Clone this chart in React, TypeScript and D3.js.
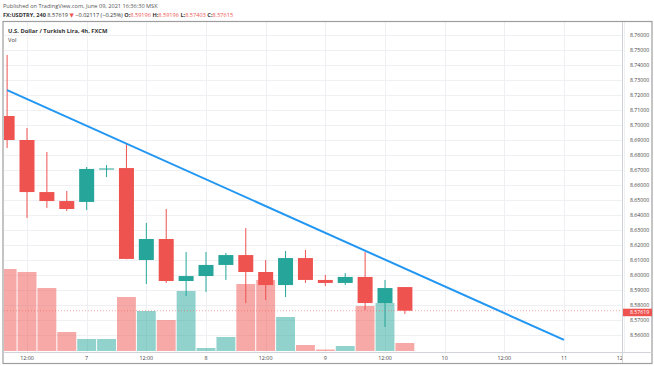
import React from 'react';
import * as d3 from 'd3';

// candle data, 4h bars starting Jun 6 2021 08:00
const opens = [8.706, 8.69, 8.6553, 8.6493, 8.6487, 8.6707, 8.6713, 8.61, 8.624, 8.596, 8.5993, 8.6067, 8.6133, 8.602, 8.5933, 8.6113, 8.5967, 8.5947, 8.5987, 8.5813, 8.59196];
const highs = [8.7467, 8.698, 8.682, 8.656, 8.672, 8.6733, 8.6873, 8.6347, 8.644, 8.6153, 8.6153, 8.6147, 8.6313, 8.61, 8.616, 8.6167, 8.6, 8.6013, 8.6153, 8.5967, 8.59196];
const lows = [8.6847, 8.638, 8.6447, 8.6427, 8.6433, 8.6653, 8.6105, 8.594, 8.5947, 8.586, 8.5887, 8.5967, 8.5813, 8.5833, 8.5853, 8.5947, 8.5927, 8.5933, 8.5767, 8.5653, 8.57403];
const closes = [8.69, 8.6553, 8.6493, 8.644, 8.6707, 8.671, 8.6107, 8.624, 8.596, 8.5993, 8.6067, 8.6133, 8.602, 8.5933, 8.6113, 8.5967, 8.5947, 8.5987, 8.5813, 8.5913, 8.57619];
const volumes = [820, 790, 630, 190, 120, 120, 540, 400, 310, 600, 30, 140, 670, 710, 340, 60, 15, 50, 450, 480, 80];

// trend line prices (start / end)
const trendPrices = [8.7233, 8.5567];

// time axis ticks, hours after Jun 6 00:00
const tickHours = [12, 24, 36, 48, 60, 72, 84, 96, 108, 120, 132];
const tickLabels = ['12:00', '7', '12:00', '8', '12:00', '9', '12:00', '10', '12:00', '11', '12:00'];
const lastPrice = 8.57619;

const W = 654, H = 366;
const pane = { left: 4, top: 22, right: 622, bottom: 352 };
const RED = '#ef5350', GREEN = '#26a69a';
const FONT = 'Open Sans, DejaVu Sans, sans-serif';

export default function App() {
  const base = new Date(2021, 5, 6, 0, 0, 0);
  const atHour = (h: number) => new Date(base.getTime() + h * 3600 * 1000);
  const x = d3.scaleTime().domain([atHour(12), atHour(120)]).range([27, 564]);
  const y = d3.scaleLinear().domain([8.56, 8.76]).range([335, 35]);
  const yVol = d3.scaleLinear().domain([0, 1000]).range([351, 251]);
  const fmt = d3.format('.5f');
  const step = x(atHour(16)) - x(atHour(12));
  const bodyW = 15;

  const bars = opens.map((o, i) => ({
    t: atHour(8 + i * 4), o, h: highs[i], l: lows[i], c: closes[i], v: volumes[i],
  }));
  const priceTicks = d3.range(0, 21).map((i) => 8.56 + i * 0.01);
  const trendLine = d3.line<[Date, number]>().x((d) => x(d[0])).y((d) => y(d[1]));
  const trendPts: [Date, number][] = [[atHour(8), trendPrices[0]], [atHour(120), trendPrices[1]]];
  const ly = y(lastPrice);

  return (
    <svg width={W} height={H} style={{ position: 'absolute', left: 0, top: 0, background: '#fff' }} fontFamily={FONT}>
      <defs>
        <clipPath id="pane">
          <rect x={pane.left} y={pane.top} width={pane.right - pane.left} height={pane.bottom - pane.top} />
        </clipPath>
        <clipPath id="taxis">
          <rect x={pane.left} y={pane.bottom} width={pane.right - pane.left} height={14} />
        </clipPath>
      </defs>
      <rect width={W} height={H} fill="#fff" />

      {/* header */}
      <text x={3} y={8} fontSize={5.6} fill="#555">Published on TradingView.com, June 09, 2021 16:36:30 MSK</text>
      <text x={3} y={17} fontSize={5.6} fill="#333">
        <tspan fontWeight="bold">FX:USDTRY, 240</tspan>
        <tspan> 8.57619 </tspan>
        <tspan fill={RED}>▼</tspan>
        <tspan> −0.02117 (−0.25%) </tspan>
        <tspan fontWeight="bold">O:</tspan><tspan fill={RED}>8.59196 </tspan>
        <tspan fontWeight="bold">H:</tspan><tspan fill={RED}>8.59196 </tspan>
        <tspan fontWeight="bold">L:</tspan><tspan fill={RED}>8.57403 </tspan>
        <tspan fontWeight="bold">C:</tspan><tspan fill={RED}>8.57615</tspan>
      </text>

      {/* grid */}
      <g stroke="#eef0f4" strokeWidth={1}>
        {priceTicks.map((p, i) => (
          <line key={'h' + i} x1={pane.left} x2={pane.right} y1={Math.round(y(p)) + 0.5} y2={Math.round(y(p)) + 0.5} />
        ))}
        {tickHours.map((h, i) => (
          <line key={'v' + i} x1={Math.round(x(atHour(h))) + 0.5} x2={Math.round(x(atHour(h))) + 0.5} y1={pane.top} y2={pane.bottom} />
        ))}
      </g>

      <g clipPath="url(#pane)">
        {/* volume */}
        {bars.map((b, i) => (
          <rect key={'v' + i} x={x(b.t) - step / 2 + 0.5} width={step - 1} y={yVol(b.v)} height={yVol(0) - yVol(b.v)}
            fill={b.c >= b.o ? GREEN : RED} fillOpacity={0.5} />
        ))}
        {/* last price line */}
        <line x1={pane.left} x2={pane.right} y1={ly} y2={ly} stroke={RED} strokeOpacity={0.5} strokeWidth={1} strokeDasharray="1,2" />
        {/* candles */}
        {bars.map((b, i) => {
          const col = b.c >= b.o ? GREEN : RED;
          const cx = x(b.t);
          const top = y(Math.max(b.o, b.c));
          const bot = y(Math.min(b.o, b.c));
          return (
            <g key={'c' + i}>
              <line x1={cx} x2={cx} y1={y(b.h)} y2={y(b.l)} stroke={col} strokeWidth={1} />
              <rect x={cx - bodyW / 2} width={bodyW} y={top} height={Math.max(1, bot - top)} fill={col} />
            </g>
          );
        })}
        {/* trend line */}
        <path d={trendLine(trendPts) || ''} fill="none" stroke="#2196f3" strokeWidth={2} />
      </g>

      {/* pane title */}
      <text x={8} y={33} fontSize={5.8} fontWeight="bold" fill="#333">U.S. Dollar / Turkish Lira, 4h, FXCM</text>
      <text x={8} y={42} fontSize={5.8} fill="#333">Vol</text>

      {/* frame */}
      <rect x={3} y={21.5} width={649} height={342} fill="none" stroke="#9e9e9e" strokeWidth={1.2} />
      <line x1={pane.right + 0.5} x2={pane.right + 0.5} y1={pane.top} y2={363} stroke="#d0d3da" />
      <line x1={3} x2={652} y1={pane.bottom + 0.5} y2={pane.bottom + 0.5} stroke="#d0d3da" />

      {/* price axis */}
      {priceTicks.map((p, i) => (
        <text key={'p' + i} x={630} y={y(p) + 1.6} fontSize={5.2} fill="#444">{fmt(p)}</text>
      ))}
      <rect x={pane.right + 1} y={ly - 2} width={29} height={7.5} fill={RED} />
      <text x={630} y={ly + 3.6} fontSize={5.2} fill="#fff">{fmt(lastPrice)}</text>

      {/* time axis */}
      <g clipPath="url(#taxis)">
        {tickHours.map((h, i) => (
          <text key={'t' + i} x={x(atHour(h))} y={360} fontSize={5.4} fill="#444" textAnchor="middle">{tickLabels[i]}</text>
        ))}
      </g>
    </svg>
  );
}
